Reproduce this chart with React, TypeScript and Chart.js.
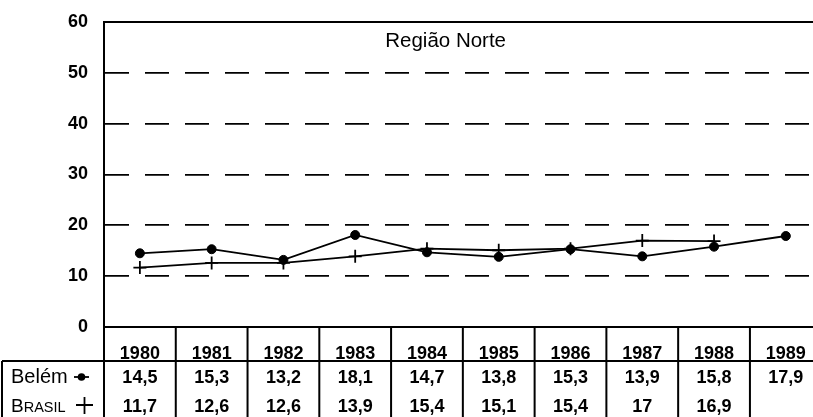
import React, { useEffect, useRef } from "react";
import { Chart, registerables } from "chart.js";

Chart.register(...registerables);

const years = ["1980", "1981", "1982", "1983", "1984", "1985", "1986", "1987", "1988", "1989"];
const belem = [14.5, 15.3, 13.2, 18.1, 14.7, 13.8, 15.3, 13.9, 15.8, 17.9];
const brasil = [11.7, 12.6, 12.6, 13.9, 15.4, 15.1, 15.4, 17, 16.9, null];
const yTicks = [0, 10, 20, 30, 40, 50, 60];
const title = "Região Norte";

const FONT = '"Liberation Sans", Arial, Helvetica, sans-serif';

const fmt = (v: number | null) => (v === null ? "" : String(v).replace(".", ","));

const tablePlugin = {
  id: "tablePlugin",
  afterDraw(chart: any) {
    const { ctx, chartArea, scales } = chart;
    const x = scales.x;
    const W = chart.width;
    const H = chart.height;
    const bottom = chartArea.bottom;
    const colW = x.getPixelForValue(1) - x.getPixelForValue(0);
    const headerBottom = bottom + 34;
    ctx.save();
    ctx.strokeStyle = "#000";
    ctx.lineWidth = 2;
    ctx.beginPath();
    ctx.moveTo(chartArea.left, chartArea.top);
    ctx.lineTo(W, chartArea.top);
    ctx.moveTo(chartArea.left, bottom);
    ctx.lineTo(W, bottom);
    ctx.moveTo(2, headerBottom);
    ctx.lineTo(W, headerBottom);
    ctx.moveTo(2, headerBottom);
    ctx.lineTo(2, H);
    for (let i = 0; i <= years.length; i++) {
      const px = x.getPixelForValue(0) - colW / 2 + i * colW;
      ctx.moveTo(px, bottom);
      ctx.lineTo(px, H);
    }
    ctx.stroke();

    ctx.fillStyle = "#000";
    ctx.textAlign = "center";
    ctx.textBaseline = "alphabetic";
    ctx.font = `bold 18px ${FONT}`;
    years.forEach((yr, i) => {
      const px = x.getPixelForValue(i);
      ctx.fillText(yr, px, bottom + 32);
      ctx.fillText(fmt(belem[i]), px, bottom + 56);
      ctx.fillText(fmt(brasil[i] as any), px, bottom + 85);
    });

    ctx.textAlign = "left";
    ctx.font = `20px ${FONT}`;
    ctx.fillText("Belém", 11, bottom + 56);
    ctx.lineWidth = 1.8;
    ctx.beginPath();
    ctx.moveTo(74, bottom + 50);
    ctx.lineTo(89, bottom + 50);
    ctx.stroke();
    ctx.beginPath();
    ctx.arc(81.5, bottom + 50, 3.8, 0, Math.PI * 2);
    ctx.fill();

    ctx.font = `19px ${FONT}`;
    ctx.fillText("B", 11, bottom + 85);
    const bw = ctx.measureText("B").width;
    ctx.font = `14.5px ${FONT}`;
    ctx.fillText("RASIL", 11 + bw, bottom + 85);
    ctx.beginPath();
    ctx.moveTo(76, bottom + 78);
    ctx.lineTo(93, bottom + 78);
    ctx.moveTo(84.5, bottom + 70);
    ctx.lineTo(84.5, bottom + 87);
    ctx.stroke();

    ctx.textAlign = "center";
    ctx.font = `20.5px ${FONT}`;
    ctx.fillText(title, chartArea.left + (chartArea.right - chartArea.left) * 0.476, chartArea.top + 25);
    ctx.restore();
  },
};

export default function App() {
  const ref = useRef<HTMLCanvasElement>(null);
  useEffect(() => {
    if (!ref.current) return;
    const chart = new Chart(ref.current, {
      type: "line",
      data: {
        labels: years,
        datasets: [
          {
            label: "Belém",
            data: belem,
            borderColor: "#000",
            backgroundColor: "#000",
            borderWidth: 1.8,
            pointStyle: "circle",
            pointRadius: 4.5,
            pointBorderWidth: 1,
            tension: 0,
          },
          {
            label: "Brasil",
            data: brasil,
            borderColor: "#000",
            backgroundColor: "#000",
            borderWidth: 1.8,
            pointStyle: "cross",
            pointRadius: 6.5,
            pointBorderWidth: 1.8,
            tension: 0,
            spanGaps: false,
          },
        ],
      },
      options: {
        responsive: false,
        animation: false,
        devicePixelRatio: 1,
        layout: { padding: { top: 22, bottom: 90, left: 0, right: 8 } },
        plugins: { legend: { display: false }, tooltip: { enabled: false }, title: { display: false } },
        scales: {
          x: {
            type: "category",
            offset: true,
            display: false,
          },
          y: {
            min: 0,
            max: 60,
            afterBuildTicks: (s: any) => {
              s.ticks = yTicks.map((v) => ({ value: v }));
            },
            afterFit: (s: any) => {
              s.width = 104;
              s.paddingTop = 0;
              s.paddingBottom = 0;
            },
            ticks: {
              color: "#000",
              padding: 16,
              font: { family: FONT, size: 18, weight: "bold" },
            },
            grid: {
              drawTicks: false,
              lineWidth: 1.7,
              color: (c: any) =>
                c.tick && (c.tick.value === 0 || c.tick.value === 60) ? "rgba(0,0,0,0)" : "#000",
            },
            border: { display: true, color: "#000", width: 2, dash: [24, 16] },
          },
        },
      },
      plugins: [tablePlugin],
    } as any);
    return () => chart.destroy();
  }, []);
  return (
    <div style={{ position: "fixed", left: 0, top: 0, width: 813, height: 417, overflow: "hidden", background: "#fff" }}>
      <canvas ref={ref} width={830} height={417} style={{ display: "block" }} />
    </div>
  );
}
